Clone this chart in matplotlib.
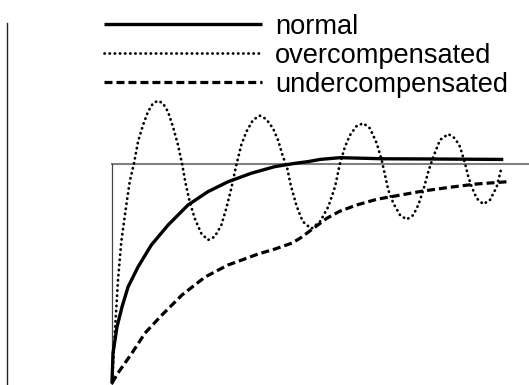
import matplotlib
matplotlib.use("Agg")
import matplotlib.pyplot as plt

plt.rcParams['font.family'] = ['Liberation Sans', 'DejaVu Sans']

# Time axis (arbitrary units) and response values
normal_t = [0, 0.026, 0.128, 0.256, 0.410, 0.667, 1.008, 1.436, 1.949, 2.462,
            2.974, 3.572, 4.172, 4.685, 5.026, 5.333, 5.846, 6.956, 8.238, 10.033]
normal_y = [0, 0.137, 0.256, 0.347, 0.438, 0.530, 0.630, 0.721, 0.813, 0.874,
            0.919, 0.958, 0.988, 1.003, 1.011, 1.021, 1.029, 1.024, 1.023, 1.021]

over_t = [0, 0.077, 0.154, 0.238, 0.367, 0.454, 0.564, 0.667, 0.795, 0.923,
          1.051, 1.179, 1.308, 1.436, 1.564, 1.692, 1.795, 1.879, 1.992, 2.121,
          2.290, 2.462, 2.633, 2.803, 2.931, 3.059, 3.187, 3.315, 3.444, 3.615,
          3.787, 3.956, 4.128, 4.256, 4.385, 4.487, 4.582, 4.726, 4.821, 4.897,
          4.992, 5.121, 5.333, 5.546, 5.718, 5.846, 5.974, 6.103, 6.274, 6.444,
          6.615, 6.787, 6.915, 7.0, 7.085, 7.213, 7.385, 7.556, 7.726, 7.854,
          7.982, 8.110, 8.238, 8.410, 8.623, 8.795, 8.923, 9.051, 9.136, 9.223,
          9.351, 9.521, 9.692, 9.864, 9.992]
over_y = [0, 0.242, 0.470, 0.645, 0.813, 0.919, 1.003, 1.102, 1.178, 1.239,
          1.277, 1.289, 1.277, 1.239, 1.170, 1.087, 1.003, 0.919, 0.828, 0.752,
          0.683, 0.653, 0.668, 0.721, 0.798, 0.889, 0.995, 1.087, 1.147, 1.201,
          1.221, 1.205, 1.163, 1.110, 1.033, 0.986, 0.904, 0.813, 0.767, 0.737,
          0.721, 0.706, 0.737, 0.805, 0.896, 1.003, 1.079, 1.132, 1.174, 1.186,
          1.163, 1.095, 1.018, 0.950, 0.881, 0.821, 0.767, 0.747, 0.767, 0.813,
          0.881, 0.965, 1.033, 1.110, 1.137, 1.117, 1.079, 1.003, 0.942, 0.896,
          0.843, 0.817, 0.836, 0.896, 0.988]

under_t = [0, 0.154, 0.513, 0.846, 1.282, 1.795, 2.385, 2.974, 3.333, 3.744,
           4.179, 4.615, 4.821, 5.162, 5.505, 5.846, 6.274, 6.787, 7.385, 7.982,
           8.667, 9.351, 10.2]
under_y = [0, 0.046, 0.137, 0.228, 0.311, 0.402, 0.484, 0.539, 0.562, 0.589,
           0.612, 0.639, 0.661, 0.706, 0.752, 0.785, 0.813, 0.839, 0.858, 0.877,
           0.894, 0.909, 0.920]

setpoint = 1.0
labels = ["normal", "overcompensated", "undercompensated"]

fig = plt.figure(figsize=(5.29, 3.85), dpi=100)
ax = fig.add_axes([7 / 529, 0, 1 - 7 / 529, (385 - 23) / 385])
ax.set_xlim(-2.692, 10.692)
ax.set_ylim(-0.009, 1.644)

# setpoint step
x0, x1 = ax.get_xlim()
y0, y1 = ax.get_ylim()
ax.axhline(setpoint, xmin=(0 - x0) / (x1 - x0), xmax=1, color='#808080', lw=1.5, zorder=1)
ax.axvline(0, ymin=0, ymax=(setpoint - y0) / (y1 - y0), color='#444444', lw=0.9, zorder=1)

l1, = ax.plot(normal_t, normal_y, color='black', lw=2.4, solid_capstyle='butt',
              solid_joinstyle='round', label=labels[0])
l2, = ax.plot(over_t, over_y, color='black', lw=2.0, linestyle=(0, (0.1, 1.75)),
              dash_capstyle='round', label=labels[1])
l3, = ax.plot(under_t, under_y, color='black', lw=2.3, linestyle=(0, (2.5, 1.25)),
              label=labels[2])

for s in ['top', 'right', 'bottom']:
    ax.spines[s].set_visible(False)
ax.spines['left'].set_color('#222222')
ax.spines['left'].set_linewidth(1.0)
ax.set_xticks([])
ax.set_yticks([])
ax.patch.set_alpha(0)

fig.legend(handles=[l1, l2, l3], loc='upper left',
           bbox_to_anchor=(104 / 529, 1 - 14 / 385), frameon=False,
           borderpad=0, borderaxespad=0, labelspacing=0.11, handlelength=5.81,
           handletextpad=0.48, fontsize=19.6)

fig.savefig("out.png", dpi=100)
